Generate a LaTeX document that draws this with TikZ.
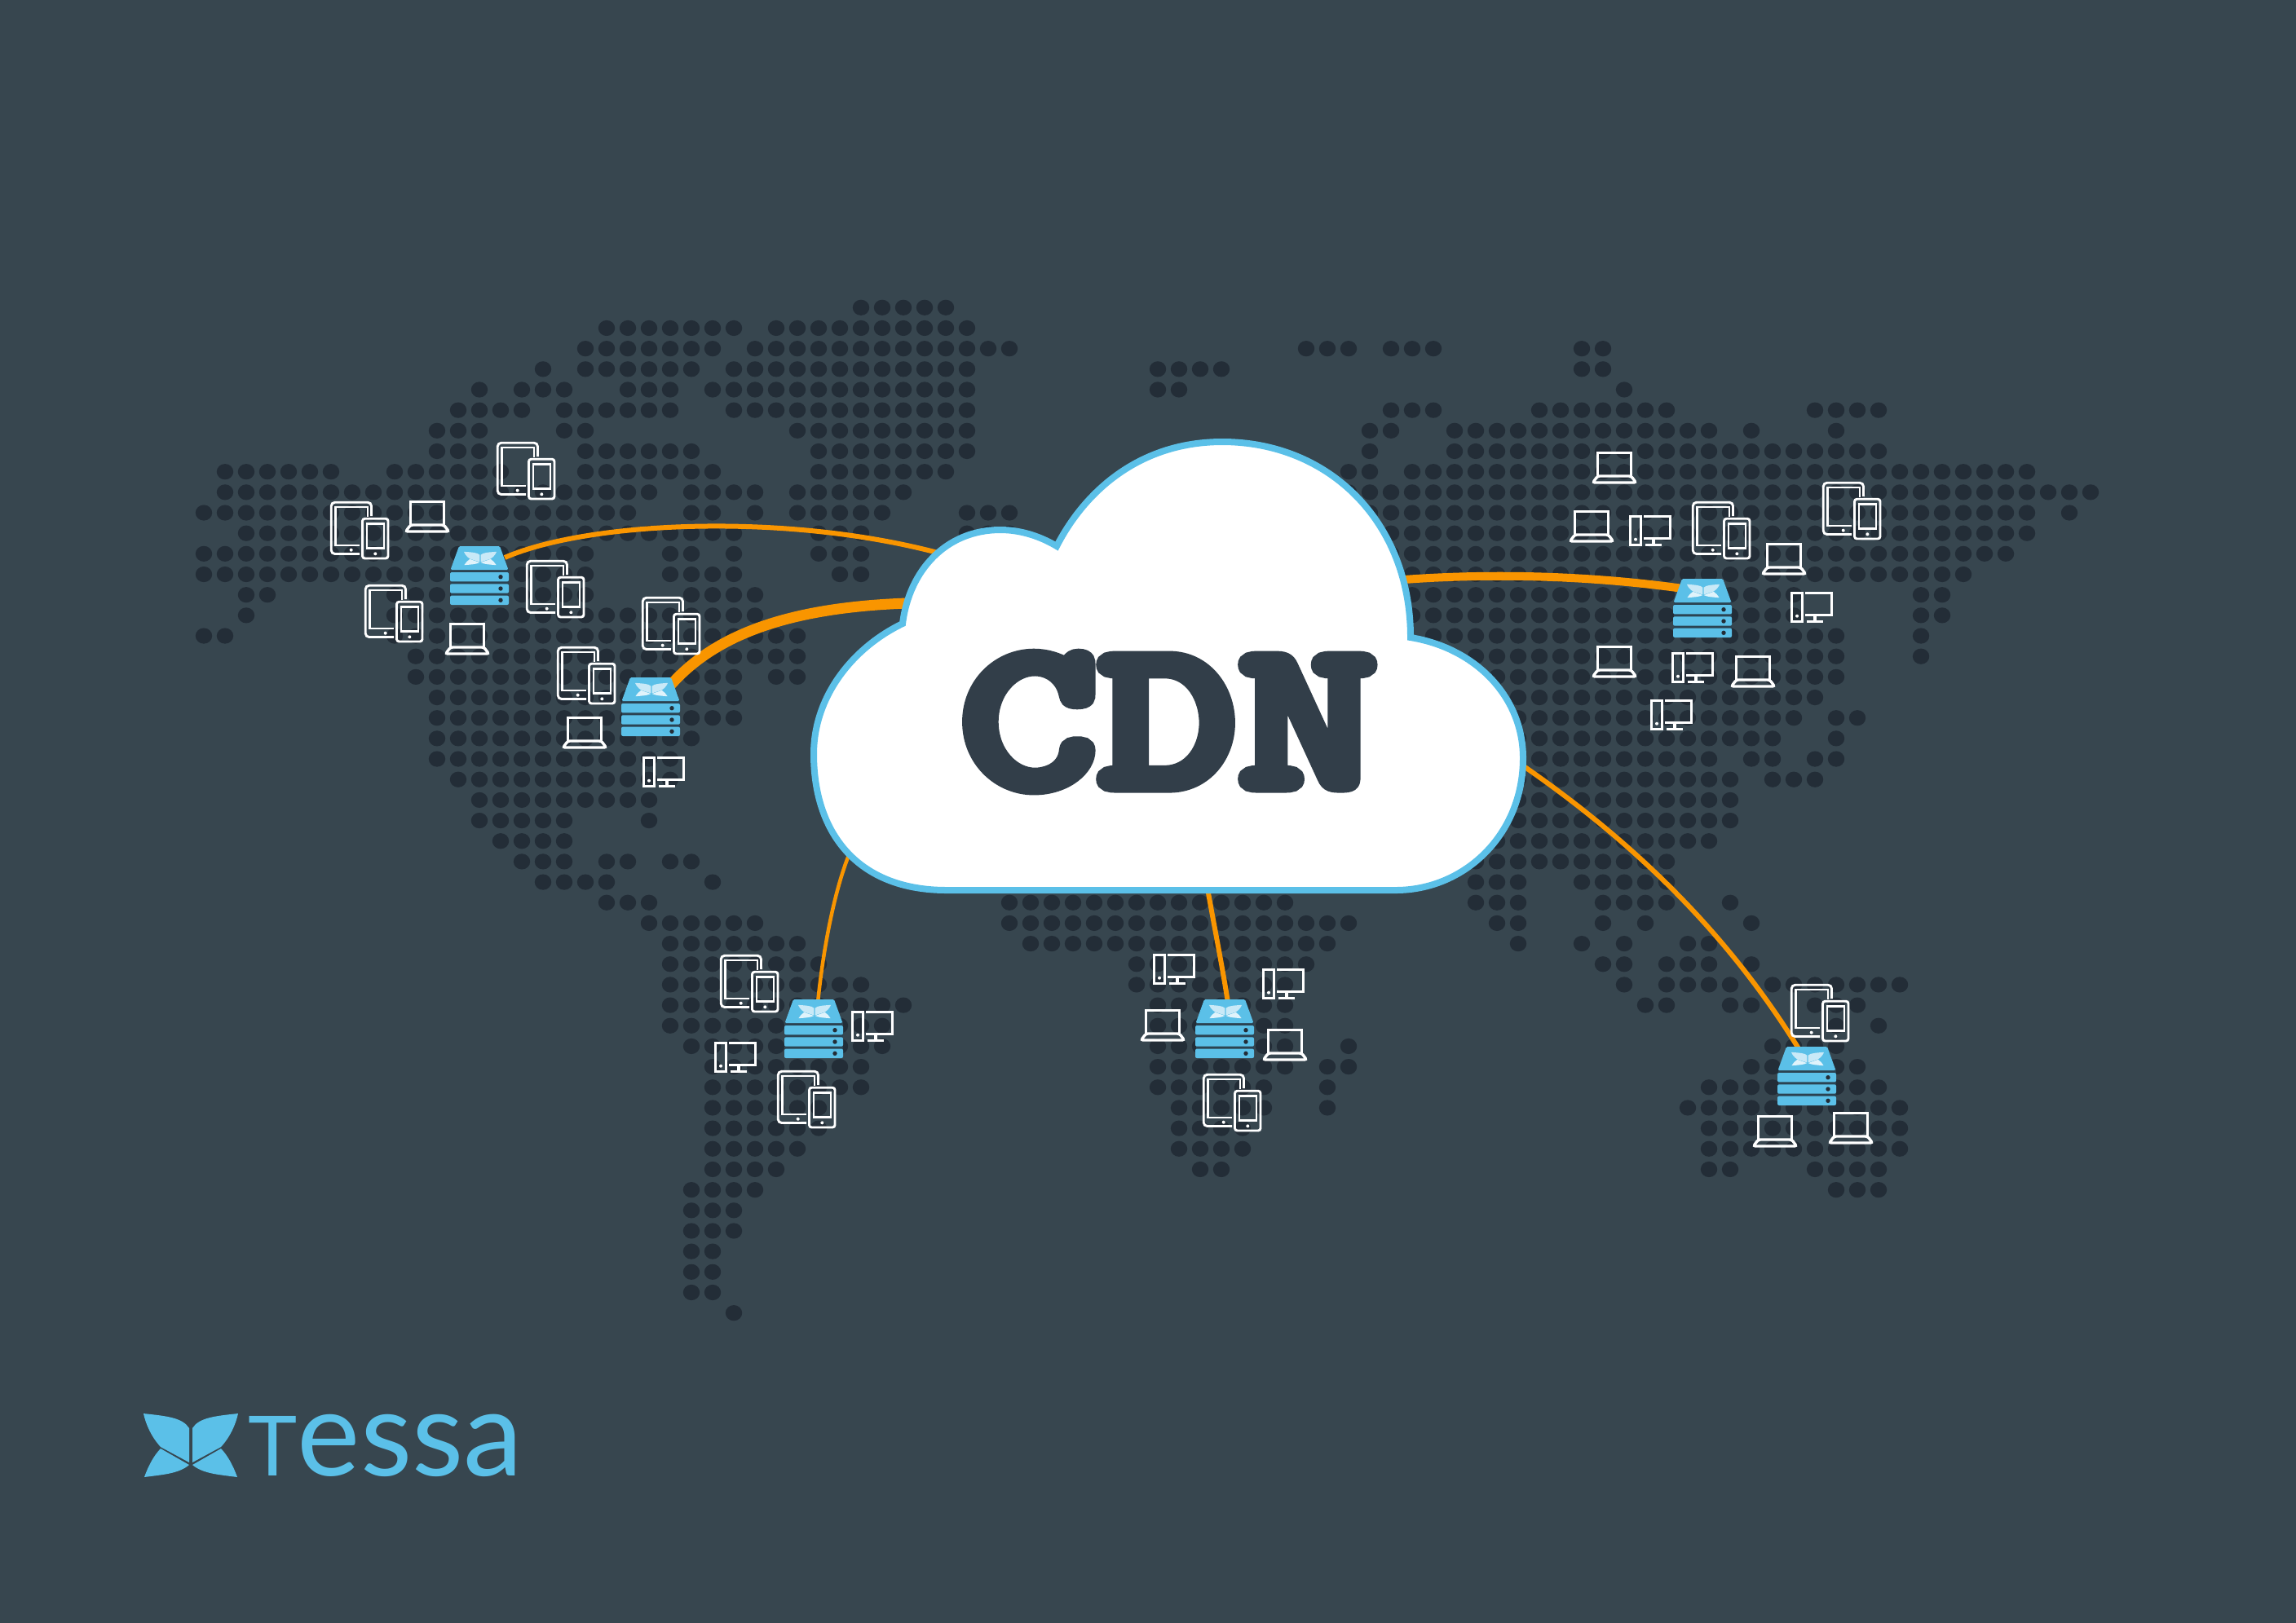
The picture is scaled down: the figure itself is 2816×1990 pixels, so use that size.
\documentclass[tikz,border=0pt]{standalone}
\usepackage{fontspec}
\setmainfont{Lato}
\definecolor{bgc}{HTML}{37464F}
\definecolor{dotc}{HTML}{232D37}
\definecolor{skyc}{HTML}{5BC0E8}
\definecolor{orc}{HTML}{F99500}
\definecolor{inkc}{HTML}{323E49}
\definecolor{gapc}{HTML}{2B4352}
\definecolor{petalA}{HTML}{C9E9F7}
\definecolor{petalB}{HTML}{E0F3FB}
\newcommand\drow[2]{\foreach \a/\b in {#2}{\foreach \c in {\a,...,\b}{\fill[dotc] ({250+26*\c},{377.3+25.17*#1}) ellipse [x radius=0.102cm, y radius=0.096cm];}}}
\newcommand\wings[2]{%
  \fill[#1] (-58,-39) .. controls (-30,-36) and (-10,-34) .. (-2,-21) -- (-2,21) -- (-37,2) .. controls (-48,-10) and (-55,-25) .. (-58,-39) -- cycle;
  \fill[#1] (58,-39) .. controls (30,-36) and (10,-34) .. (2,-21) -- (2,21) -- (37,2) .. controls (48,-10) and (55,-25) .. (58,-39) -- cycle;
  \fill[#2] (-37,4) -- (-2,24) .. controls (-15,35) and (-35,36) .. (-57,39) .. controls (-52,25) and (-45,12) .. (-37,4) -- cycle;
  \fill[#2] (37,4) -- (2,24) .. controls (15,35) and (35,36) .. (57,39) .. controls (52,25) and (45,12) .. (37,4) -- cycle;}
\tikzset{
  wire/.style={draw=orc,line cap=butt},
  iconthin/.style={draw=white,line width=0.029cm},
  iconmid/.style={draw=white,line width=0.034cm},
  pics/serverpic/.style={code={
    \fill[gapc] (-35.5,27) rectangle (35.5,62);
    \fill[skyc,rounded corners=0.015cm] (-25,0) -- (25,0) -- (35.5,29) -- (-35.5,29) -- cycle;
    \foreach \t in {32,46.3,60.6}{
      \fill[skyc,rounded corners=0.02cm] (-36,\t) rectangle (36,\t+11.4);
      \fill[dotc] (26,\t+5.7) circle [radius=0.027cm];}
    \begin{scope}[shift={(1,15)},xscale=.345,yscale=.21]
      \wings{petalA}{petalB}
    \end{scope}}},
  pics/tabletpic/.style={code={
    \draw[iconthin,rounded corners=0.045cm] (50.5,18) -- (50.5,1.25) -- (1.25,1.25) -- (1.25,64.5) -- (36,64.5);
    \draw[iconthin] (46,19) -- (46,7) -- (6.5,7) -- (6.5,54) -- (36,54);
    \draw[iconthin,rounded corners=0.03cm] (39.5,21.2) rectangle (71,70);
    \draw[iconthin] (45,27.5) rectangle (66,57.5);
    \fill[white] (25.7,59.7) circle [radius=0.02cm];
    \fill[white] (55.3,64.3) circle [radius=0.02cm];}},
  pics/laptoppic/.style={code={
    \draw[iconmid] (1.5,30) -- (1.5,1.5) -- (42.5,1.5) -- (42.5,30);
    \draw[iconmid,rounded corners=0.025cm] (1.5,30) -- (-4.5,38) -- (48.5,38) -- (42.5,30) -- cycle;}},
  pics/desktoppic/.style={code={
    \draw[iconmid] (1.5,1.5) rectangle (14.5,36.5);
    \fill[white] (8,29.7) circle [radius=0.02cm];
    \draw[iconmid] (18,1.5) -- (50.5,1.5) -- (50.5,28.5) -- (18,28.5);
    \draw[iconmid] (30,28.5) -- (30,36.5);
    \draw[iconmid] (20,36.5) -- (40,36.5);}}
}
\begin{document}
\begin{tikzpicture}[x=0.01cm,y=-0.01cm]
\useasboundingbox (0,0) rectangle (2816,1990);
\fill[bgc] (-10,-10) rectangle (2826,2000);
% dotted world map
\drow{0}{31/35}
\drow{1}{19/25,27/36}
\drow{2}{18/24,26/38,52/54,56/58,65/66}
\drow{3}{16/16,18/23,25/36,45/48,65/66}
\drow{4}{13/13,15/17,20/22,24/36,45/46,67/67}
\drow{5}{12/15,17/22,25/36,56/58,63/69,76/79}
\drow{6}{11/13,17/18,28/36,55/56,59/71,73/73,77/77}
\drow{7}{11/13,18/23,29/36,55/55,59/79}
\drow{8}{1/6,9/14,18/24,29/35,54/55,57/86}
\drow{9}{1/21,23/26,28/33,54/89}
\drow{10}{0/20,23/24,26/26,28/32,36/38,55/86,88/88}
\drow{11}{2/25,29/31,36/38,55/86}
\drow{12}{0/18,22/23,25/25,29/31,56/85}
\drow{13}{0/18,22/25,30/31,56/83}
\drow{14}{2/3,9/18,23/26,57/75,81/82}
\drow{15}{2/2,9/26,57/75,81/82}
\drow{16}{0/1,9/28,58/77,81/81}
\drow{17}{10/28,59/77,81/81}
\drow{18}{10/25,27/28,60/77}
\drow{19}{11/25,60/76}
\drow{20}{11/25,60/75,77/78}
\drow{21}{11/23,60/74,77/77}
\drow{22}{11/22,60/71,73/74,76/77}
\drow{23}{12/22,60/72,74/76}
\drow{24}{13/21,60/72}
\drow{25}{13/17,21/21,60/72}
\drow{26}{14/17,60/71}
\drow{27}{15/17,19/20,22/23,58/69}
\drow{28}{16/19,24/24,60/62,65/69}
\drow{29}{19/21,38/51,60/62,66/69,72/72}
\drow{30}{21/26,38/54,61/62,66/66,68/68,73/73}
\drow{31}{22/28,39/53,62/62,65/65,67/67,70/71}
\drow{32}{22/29,44/52,66/67,69/71,73/73}
\drow{33}{22/31,44/51,67/67,69/72,74/80}
\drow{34}{22/33,45/51,68/69,72/73,76/78}
\drow{35}{22/32,45/51,77/77,79/79}
\drow{36}{23/32,45/51,54/54,74/77}
\drow{37}{24/31,45/51,53/54,73/78}
\drow{38}{24/31,45/50,53/53,71/79}
\drow{39}{24/29,46/50,53/53,70/80}
\drow{40}{24/29,46/49,71/80}
\drow{41}{24/28,46/49,71/80}
\drow{42}{24/27,47/48,71/72,76/79}
\drow{43}{23/26,77/79}
\drow{44}{23/25}
\drow{45}{23/25}
\drow{46}{23/24}
\drow{47}{23/24}
\drow{48}{23/24}
\drow{49}{25/25}
% anchors
\coordinate (srvA) at (588,670);
\coordinate (srvB) at (798,831);
\coordinate (srvC) at (998,1226);
\coordinate (srvD) at (1502,1226);
\coordinate (srvE) at (2088,710);
\coordinate (srvF) at (2216,1284);
\coordinate (srvAport) at (619,684);
\coordinate (srvBport) at (822,841);
\coordinate (srvCport) at (1003,1230);
\coordinate (srvDport) at (1506,1230);
\coordinate (srvEport) at (2064,722);
\coordinate (srvFport) at (2207,1288);
\coordinate (cloudA) at (1150,678);
\coordinate (cloudB) at (1112,740);
\coordinate (cloudC) at (1044,1042);
\coordinate (cloudD) at (1481,1090);
\coordinate (cloudE) at (1722,711);
\coordinate (cloudF) at (1866,938);
% connectors
\draw[wire,line width=0.06cm] (srvAport) .. controls (720,640) and (960,628) .. (cloudA);
\draw[wire,line width=0.13cm] (srvBport) .. controls (880,775) and (975,745) .. (cloudB);
\draw[wire,line width=0.045cm] (srvCport) .. controls (1010,1160) and (1025,1085) .. (cloudC);
\draw[wire,line width=0.06cm] (srvDport) .. controls (1500,1190) and (1488,1130) .. (cloudD);
\draw[wire,line width=0.1cm] (srvEport) .. controls (1950,706) and (1830,703) .. (cloudE);
\draw[wire,line width=0.06cm] (srvFport) .. controls (2110,1130) and (1985,1020) .. (cloudF);
% cloud
\draw[fill=white,draw=skyc,line width=0.08cm,line join=miter,miter limit=6]
  (1161,1092) -- (1712,1092)
  .. controls (1795,1092) and (1868,1025) .. (1868,930)
  .. controls (1868,855) and (1810,795) .. (1730,782)
  .. controls (1730,640) and (1630,542) .. (1499,542)
  .. controls (1400,542) and (1332,600) .. (1296,670)
  .. controls (1276,658) and (1252,650) .. (1227,650)
  .. controls (1160,650) and (1115,700) .. (1107,765)
  .. controls (1045,795) and (998,855) .. (998,925)
  .. controls (998,1020) and (1050,1092) .. (1161,1092) -- cycle;
\node (cdn) [anchor=base,inner sep=0pt,xscale=1.245,text=inkc,font=\ttfamily\bfseries\fontsize{74.4pt}{76pt}\selectfont] at (1433,965.5) {\special{pdf:code q 2 Tr 4 w 2 M 0.196 0.243 0.286 RG}CDN\special{pdf:code Q}};
% servers
\foreach \s in {srvA,srvB,srvC,srvD,srvE,srvF}{\pic at (\s) {serverpic};}
% tablets and phones
\foreach \p in {(405,615),(609,542),(447,717),(645,687),(787,732),(683,793),(883,1171),(953,1313),(1475,1317),(2235,591),(2075,615),(2196,1207)}{\pic at \p {tabletpic};}
% laptops
\foreach \p in {(502,614),(551,764),(695,879),(1958,554),(1930,626),(2166,666),(1958,792),(2128,804),(1404,1238),(1554,1262),(2155,1368),(2248,1364)}{\pic at \p {laptoppic};}
% desktops
\foreach \p in {(876,1278),(1044,1240),(788,928),(1998,632),(2196,726),(2050,800),(2024,858),(1414,1170),(1548,1188)}{\pic at \p {desktoppic};}
% logo
\begin{scope}[shift={(234,1773)}]
  \wings{skyc}{skyc}
\end{scope}
\node (logotext) [anchor=base west,inner sep=0pt,text=skyc] at (304,1810) {\fontsize{29pt}{30pt}\selectfont T\fontsize{41.6pt}{42pt}\selectfont essa};
\end{tikzpicture}
\end{document}
